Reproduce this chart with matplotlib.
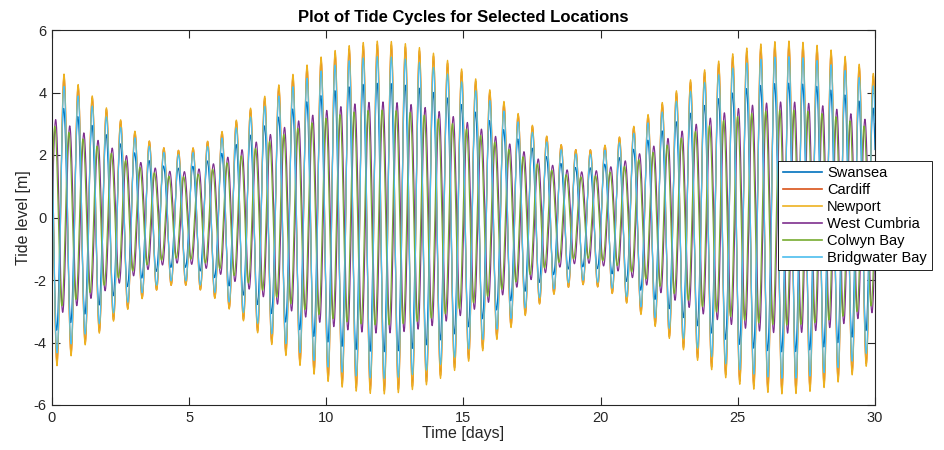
import numpy as np
import matplotlib.pyplot as plt

# Harmonic constants for each site (semidiurnal M2 and S2), metres / days
locations = ["Swansea", "Cardiff", "Newport", "West Cumbria", "Colwyn Bay", "Bridgwater Bay"]
m2_amp = [2.94, 3.85, 3.90, 2.58, 2.37, 3.58]
s2_amp = [1.36, 1.70, 1.75, 1.12, 1.07, 1.57]
high_water = [0.46, 0.47, 0.47, 0.68, 0.65, 0.47]   # first M2 high water [days]
spring_day = 12.0                                    # spring tide peak [days]
colors = ["#0072BD", "#D95319", "#EDB120", "#7E2F8E", "#77AC30", "#4DBEEE"]

T_M2 = 12.4206 / 24.0
T_S2 = 12.0 / 24.0
w_m2 = 2 * np.pi / T_M2
w_s2 = 2 * np.pi / T_S2

t = np.arange(0, 30.0 + 1e-9, 5.0 / (24 * 60))

plt.rcParams["font.family"] = ["Liberation Sans", "DejaVu Sans"]
plt.rcParams["axes.unicode_minus"] = False

fig = plt.figure(figsize=(9.44, 4.5), dpi=100)
ax = fig.add_axes([52 / 944, 1 - 405 / 450, (875 - 52) / 944, (405 - 30) / 450])

for name, a1, a2, hw, c in zip(locations, m2_amp, s2_amp, high_water, colors):
    lag = (w_s2 - w_m2) * (spring_day - hw)
    h = a1 * np.cos(w_m2 * (t - hw)) + a2 * np.cos(w_s2 * (t - hw) - lag)
    ax.plot(t, h, color=c, lw=0.85, label=name)

ax.set_xlim(0, 30)
ax.set_ylim(-6, 6)
ax.set_xticks(np.arange(0, 31, 5))
ax.set_yticks(np.arange(-6, 7, 2))

dark = "#262626"
for s in ax.spines.values():
    s.set_color(dark)
    s.set_linewidth(0.8)
ax.tick_params(direction="in", top=True, right=True, length=6, width=0.8,
               colors=dark, labelsize=10.5, pad=4)

ax.set_xlabel("Time [days]", fontsize=11.5, color=dark, labelpad=1)
ax.set_ylabel("Tide level [m]", fontsize=11.5, color=dark, labelpad=2)
ax.set_title("Plot of Tide Cycles for Selected Locations", fontsize=12,
             fontweight="bold", pad=6)

leg = fig.legend(loc="upper left", bbox_to_anchor=(778 / 944, 1 - 161 / 450),
                 fontsize=10.5, frameon=True, fancybox=False, edgecolor="black",
                 framealpha=1, handlelength=2.7, handletextpad=0.3,
                 labelspacing=0.2, borderpad=0.35, borderaxespad=0)
leg.get_frame().set_linewidth(0.6)
for line in leg.get_lines():
    line.set_linewidth(1.2)

fig.savefig("out.png", dpi=100)
